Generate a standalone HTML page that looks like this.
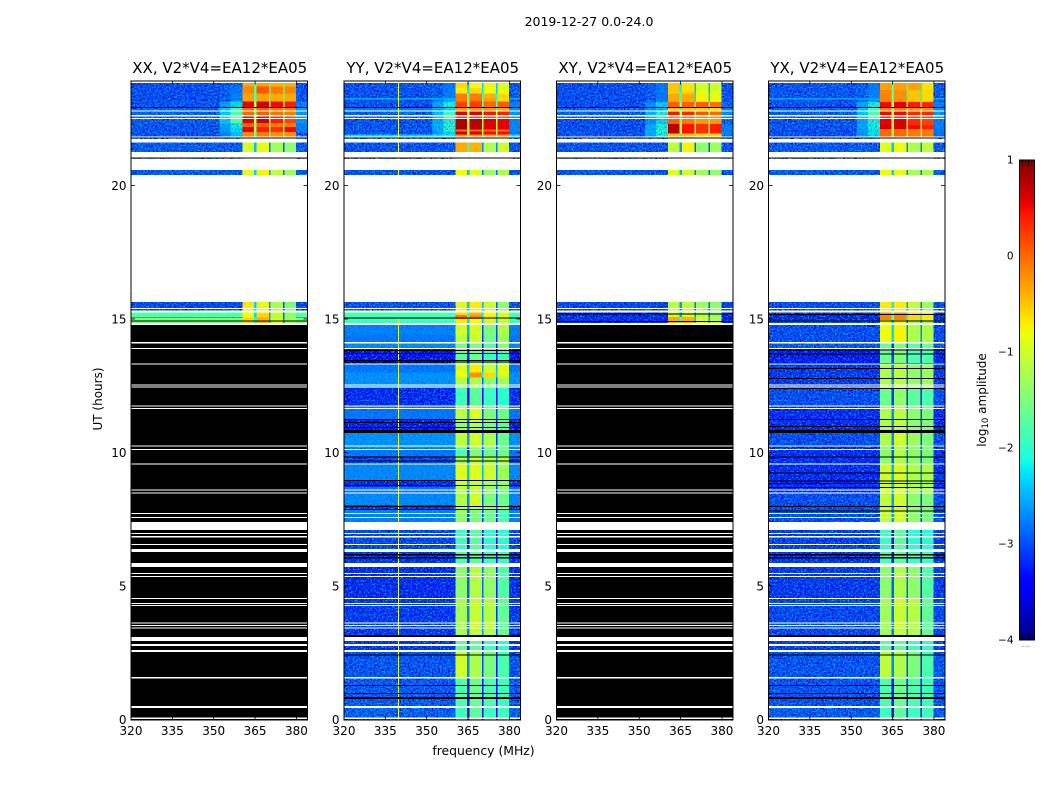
<!DOCTYPE html>
<html>
<head>
<meta charset="utf-8">
<title>2019-12-27 waterfall</title>
<style>
html,body{margin:0;padding:0;background:#fff;}
svg{display:block;}
text{font-family:"DejaVu Sans","Liberation Sans",sans-serif;fill:#000;}
</style>
</head>
<body>
<svg id="figure" xmlns="http://www.w3.org/2000/svg" width="1050" height="800" viewBox="0 0 1050 800">
  <defs>
    <filter id="speckle" x="0" y="0" width="1" height="1" color-interpolation-filters="sRGB">
      <feTurbulence type="fractalNoise" baseFrequency="0.62" numOctaves="1" seed="4" result="n"/>
      <feColorMatrix in="n" values="0 0 0 0 0  0 0 0 0 0  0 0 0 0 0.78  3.2 0 0 0 -1.3" result="dark"/>
      <feColorMatrix in="n" values="0 0 0 0 0  0 0 0 0 0.75  0 0 0 0 1  0 3.2 0 0 -1.55" result="light"/>
      <feMerge><feMergeNode in="dark"/><feMergeNode in="light"/></feMerge>
    </filter>
  </defs>
  <rect x="0" y="0" width="1050" height="800" fill="#fff"/>
  <text x="589" y="26" font-size="12.5" text-anchor="middle">2019-12-27 0.0-24.0</text>
  <text x="483.5" y="755" font-size="12.4" text-anchor="middle">frequency (MHz)</text>
  <text x="0" y="0" font-size="12" text-anchor="middle" transform="translate(102,399) rotate(-90)">UT (hours)</text>
  <text x="0" y="0" font-size="12" text-anchor="middle" transform="translate(986,400) rotate(-90)">log<tspan font-size="8.5" dy="2">10</tspan><tspan dy="-2"> amplitude</tspan></text>
  <g id="panels"></g>
  <g id="colorbar"></g>
</svg>
<script>
// ---- axis data ----
const freqEdges = [320, 352, 356, 360.4, 364.6, 365.5, 370.0, 370.6, 375.1, 375.7, 379.9, 384];
const freqTicks = [320, 335, 350, 365, 380];
const utTicks = [0, 5, 10, 15, 20];
const cbarTicks = [1, 0, -1, -2, -3, -4];
const panelTitles = ["XX, V2*V4=EA12*EA05", "YY, V2*V4=EA12*EA05", "XY, V2*V4=EA12*EA05", "YX, V2*V4=EA12*EA05"];

// Flagged (no data) time ranges, hours: shared by all polarisations
const maskedBands = [
 [23.93,23.83],[22.80,22.76],[22.63,22.58],[22.53,22.49],[21.83,21.80],[21.74,21.60],[21.25,21.05],[20.99,20.58],[20.39,15.64],
 [15.41,15.37],[15.32,15.24],[14.85,14.78],[14.13,14.09],[13.91,13.87],[13.34,13.30],[12.55,12.52],[12.47,12.43],
 [11.76,11.73],[11.67,11.63],[10.27,10.23],[10.13,10.09],[9.59,9.55],[8.62,8.57],[8.51,8.47],[7.73,7.70],[7.58,7.55],
 [7.40,7.10],[6.99,6.94],[6.87,6.82],[6.57,6.54],[6.39,6.27],[5.86,5.71],[5.49,5.45],[5.37,5.34],[4.55,4.51],
 [4.36,4.33],[4.29,4.25],[3.633,3.596],[3.539,3.502],[3.446,3.408],[3.09,2.94],[2.83,2.75],[2.60,2.53],[1.59,1.53],
 [0.51,0.43],[0.08,0.02]
];
const sharedZeroBands = [[22.93,22.90],[21.79,21.75],[21.04,21.00]];

// Rows: [utTop, utBottom, background, ramp, sub1, sub2, sub3, sub4] (log10 amplitude; -9 = zero)
const xxRows = [
 [23.83,23.70,-2.95,-2.8,-0.35,-0.3,-0.4,-0.4],
 [23.70,23.45,-2.95,-2.75,-0.15,0.1,-0.1,-0.15],
 [23.45,23.14,-2.95,-2.7,-0.3,-0.3,-0.35,-0.35],
 [23.14,22.90,-2.9,-2.2,0.55,0.65,0.5,0.4],
 [22.90,22.63,-2.8,-1.8,0.0,0.05,-0.05,-0.1],
 [22.63,22.53,-2.8,-1.6,0.5,0.55,0.35,0.2],
 [22.53,22.34,-2.85,-1.8,0.6,0.65,0.4,0.2],
 [22.34,22.19,-2.9,-2.1,0.05,0.05,-0.1,-0.1],
 [22.19,22.00,-2.9,-2.2,0.55,0.4,0.3,0.5],
 [22.00,21.80,-2.95,-2.4,-0.15,-0.1,-0.2,-0.2],
 [21.60,21.25,-2.85,-2.85,-0.95,-0.85,-1.3,-1.4],
 [20.58,20.39,-2.85,-2.85,-0.85,-0.75,-1.1,-1.3],
 [15.64,15.24,-3.0,-3.0,-0.7,-0.85,-1.2,-1.5],
 [15.24,15.07,-1.75,-1.75,-0.8,-0.6,-1.1,-1.4],
 [15.07,15.05,-3.0,-3.0,-0.7,-0.5,-1.2,-1.5],
 [15.05,14.78,-1.5,-1.5,-0.6,-0.4,-1.0,-1.3],
 [14.78,0,-9,-9,-9,-9,-9,-9]
];
const yyRows = [
 [23.83,23.64,-2.9,-2.75,-0.6,-0.8,-0.75,-0.9],
 [23.64,23.45,-2.9,-2.75,-0.7,-0.6,-0.8,-0.85],
 [23.45,23.28,-2.95,-2.7,-0.1,-0.1,-0.4,-0.6],
 [23.28,23.22,-2.45,-2.45,-0.1,-0.1,-0.3,-0.6],
 [23.22,23.15,-2.95,-2.5,-0.1,-0.05,-0.3,-0.6],
 [23.15,22.90,-2.9,-2.1,0.2,0.25,0.0,0.05],
 [22.90,22.80,-2.75,-2.2,-0.25,-0.2,-0.2,-0.3],
 [22.80,22.63,-2.8,-1.9,0.6,0.6,0.45,0.4],
 [22.63,22.49,-2.8,-1.9,0.2,0.2,0.15,0.1],
 [22.49,22.10,-2.9,-2.0,0.8,0.75,0.6,0.55],
 [22.10,22.02,-2.9,-2.0,-0.05,0.0,0.0,-0.05],
 [22.02,21.90,-2.9,-2.2,0.7,0.65,0.5,0.5],
 [21.90,21.80,-2.2,-2.0,-0.2,-0.2,-0.3,-0.3],
 [21.60,21.25,-2.9,-2.9,-0.35,-0.4,-1.2,-1.0],
 [20.58,20.39,-2.9,-2.9,-0.8,-0.9,-1.3,-1.2],
 [15.64,15.24,-2.9,-2.9,-0.9,-0.7,-1.0,-1.4],
 [15.24,15.15,-1.8,-1.8,-0.6,-0.4,-0.8,-1.0],
 [15.15,15.00,-1.8,-1.8,-0.05,-0.2,-0.7,-0.9],
 [15.00,14.78,-1.9,-1.9,-0.7,-0.8,-1.0,-1.1],
 [14.78,14.40,-2.7,-2.7,-1.0,-0.95,-1.5,-1.2],
 [14.40,14.13,-2.75,-2.75,-1.1,-1.0,-1.6,-1.3],
 [14.13,13.88,-2.65,-2.65,-1.5,-1.5,-1.7,-1.4],
 [13.88,13.31,-3.4,-3.4,-1.7,-1.6,-1.9,-1.9],
 [13.31,13.00,-2.75,-2.75,-0.9,-0.7,-1.0,-0.9],
 [13.00,12.80,-2.6,-2.6,-0.8,-0.2,-0.6,-0.9],
 [12.80,12.42,-2.6,-2.6,-1.2,-1.2,-1.4,-1.3],
 [12.42,11.74,-3.2,-3.2,-1.9,-1.7,-1.9,-2.0],
 [11.74,11.22,-2.75,-2.75,-1.1,-0.9,-1.5,-1.6],
 [11.22,10.73,-3.3,-3.3,-1.4,-1.2,-1.5,-1.7],
 [10.73,10.17,-2.6,-2.6,-1.1,-1.0,-1.2,-1.6],
 [10.17,9.87,-2.75,-2.75,-1.8,-1.5,-1.6,-1.6],
 [9.87,9.57,-3.0,-3.0,-1.3,-1.1,-1.2,-1.2],
 [9.57,8.97,-2.65,-2.65,-0.9,-0.9,-1.0,-1.3],
 [8.97,8.71,-3.2,-3.2,-1.0,-1.0,-1.2,-1.3],
 [8.71,8.48,-2.75,-2.75,-1.2,-1.1,-1.4,-1.5],
 [8.48,8.03,-2.65,-2.65,-1.2,-1.0,-1.5,-1.6],
 [8.03,7.85,-3.1,-3.1,-1.1,-1.1,-1.3,-1.4],
 [7.85,7.40,-2.7,-2.7,-1.4,-1.5,-1.6,-1.8],
 [7.40,6.39,-3.0,-3.0,-1.9,-1.7,-2.0,-2.0],
 [6.39,5.71,-3.1,-3.1,-1.8,-1.7,-1.9,-1.9],
 [5.71,4.55,-3.2,-3.2,-1.4,-1.15,-1.35,-1.75],
 [4.55,3.09,-3.1,-3.1,-1.25,-1.05,-1.15,-1.65],
 [3.09,2.53,-3.1,-3.1,-1.7,-1.7,-1.9,-2.0],
 [2.53,1.59,-2.9,-2.9,-1.0,-1.2,-1.5,-1.8],
 [1.59,0.51,-2.85,-2.85,-1.8,-1.6,-1.8,-1.9],
 [0.51,0,-2.8,-2.8,-1.9,-1.7,-1.9,-1.9]
];
const xyRows = [
 [23.83,23.54,-2.95,-2.75,-0.5,-0.65,-0.95,-1.0],
 [23.54,23.45,-2.95,-2.75,-0.55,-0.6,-0.9,-0.95],
 [23.45,23.13,-2.95,-2.75,-0.35,-0.35,-0.75,-0.85],
 [23.13,22.90,-2.95,-2.3,0.05,0.05,0.05,-0.05],
 [22.90,22.80,-2.8,-2.4,-0.5,-0.5,-0.55,-0.6],
 [22.80,22.63,-2.85,-2.0,0.45,0.35,0.1,0.0],
 [22.63,22.49,-2.85,-2.0,-0.1,-0.1,-0.2,-0.2],
 [22.49,22.30,-2.95,-2.3,0.05,-0.1,-0.25,-0.25],
 [22.30,21.95,-2.95,-2.0,0.75,0.45,0.3,0.4],
 [21.95,21.80,-2.9,-2.1,-0.5,-0.5,-0.6,-0.6],
 [21.60,21.25,-2.9,-2.9,-1.1,-0.75,-1.4,-1.3],
 [20.58,20.39,-2.9,-2.9,-0.85,-1.0,-1.3,-1.4],
 [15.64,15.24,-3.0,-3.0,-1.1,-1.1,-1.3,-1.4],
 [15.24,15.08,-3.2,-3.2,-1.0,-1.0,-1.2,-1.4],
 [15.08,14.78,-3.2,-3.2,-0.35,-0.4,-0.9,-1.1],
 [14.78,0,-9,-9,-9,-9,-9,-9]
];
const yxRows = [
 [23.83,23.57,-2.9,-2.75,-0.3,-0.3,-0.3,-0.65],
 [23.57,23.28,-2.9,-2.7,-0.15,-0.2,-0.5,-0.6],
 [23.28,23.22,-2.5,-2.5,-0.15,-0.2,-0.5,-0.6],
 [23.22,23.12,-2.9,-2.6,-0.15,-0.2,-0.5,-0.6],
 [23.12,22.90,-2.9,-2.1,0.5,0.55,0.4,0.35],
 [22.90,22.80,-2.8,-1.9,-0.1,-0.1,-0.2,-0.2],
 [22.80,22.63,-2.8,-1.8,0.5,0.5,0.35,0.35],
 [22.63,22.49,-2.8,-1.8,0.3,0.3,0.2,0.2],
 [22.49,22.27,-2.9,-2.1,0.55,0.6,0.35,0.2],
 [22.27,22.12,-2.9,-2.1,0.65,0.65,0.5,0.4],
 [22.12,21.80,-2.95,-2.2,0.0,0.0,-0.1,-0.1],
 [21.60,21.25,-2.85,-2.85,-0.9,-0.8,-1.2,-1.1],
 [20.58,20.39,-2.85,-2.85,-0.8,-0.85,-1.25,-1.2],
 [15.64,15.24,-2.95,-2.95,-0.7,-0.7,-1.1,-1.3],
 [15.24,14.97,-3.2,-3.2,-0.15,-0.15,-0.6,-0.7],
 [14.97,14.13,-2.95,-2.95,-0.8,-0.75,-1.2,-1.2],
 [14.13,13.88,-2.85,-2.85,-1.6,-1.5,-1.7,-1.6],
 [13.88,13.31,-3.3,-3.3,-1.6,-1.5,-1.8,-1.8],
 [13.31,12.42,-3.1,-3.1,-1.2,-1.1,-1.4,-1.3],
 [12.42,11.74,-2.95,-2.95,-1.6,-1.4,-1.7,-1.8],
 [11.74,10.73,-3.2,-3.2,-1.2,-1.1,-1.4,-1.5],
 [10.73,10.28,-2.95,-2.95,-1.2,-1.0,-1.3,-1.5],
 [10.28,9.57,-3.2,-3.2,-1.4,-1.2,-1.4,-1.5],
 [9.57,8.48,-3.2,-3.2,-1.0,-0.95,-1.2,-1.2],
 [8.48,7.40,-2.95,-2.95,-1.1,-1.0,-1.4,-1.5],
 [7.40,6.39,-3.05,-3.05,-1.9,-1.7,-2.0,-2.0],
 [6.39,5.71,-3.1,-3.1,-1.8,-1.7,-1.9,-1.9],
 [5.71,4.55,-3.1,-3.1,-1.4,-1.2,-1.4,-1.75],
 [4.55,3.09,-3.0,-3.0,-1.3,-1.05,-1.15,-1.65],
 [3.09,2.53,-3.05,-3.05,-1.7,-1.7,-1.9,-2.0],
 [2.53,1.59,-2.9,-2.9,-1.1,-1.2,-1.5,-1.8],
 [1.59,0.51,-2.9,-2.9,-1.8,-1.6,-1.8,-1.9],
 [0.51,0,-2.85,-2.85,-1.9,-1.7,-1.9,-1.9]
];
const panelRows = [xxRows, yyRows, xyRows, yxRows];

// Per-polarisation zero-amplitude lines [utTop, utBottom]
const xxZeroBands = [[14.95,14.92]];
const yyZeroBands = [[15.06,15.03],[13.84,13.82],[13.72,13.70],[13.46,13.44],[13.40,13.37],[11.25,11.22],[11.14,11.11],[10.96,10.93],[10.84,10.73],[9.84,9.81],[9.69,9.66],[8.96,8.93],[8.78,8.75],[8.00,7.97],[7.88,7.85],[6.20,6.14],[6.08,6.02],[3.16,3.09],[2.44,2.41],[1.29,1.26],[1.00,0.97],[0.84,0.77]];
const xyZeroBands = [[15.21,15.18],[14.92,14.89]];
const yxZeroBands = [[15.19,15.16],[14.95,14.92],[13.85,13.83],[13.70,13.68],[13.35,13.33],[13.16,13.13],[12.78,12.75],[12.42,12.39],[11.25,11.22],[11.00,10.97],[10.84,10.72],[9.85,9.82],[9.25,9.22],[8.95,8.92],[8.85,8.82],[8.70,8.67],[8.00,7.97],[7.83,7.80],[6.20,6.14],[6.08,6.02],[3.16,3.09],[2.44,2.41],[1.29,1.26],[1.00,0.97],[0.84,0.77]];
const panelZeroBands = [xxZeroBands, yyZeroBands, xyZeroBands, yxZeroBands];

// Narrow RFI channels: [panel index, MHz, utTop, utBottom, level]
const rfiLines = [[1, 339.8, 15.0, 0, -0.9], [1, 339.8, 23.93, 15.64, -0.8]];

// ---- layout ----
const panelLeft = [131, 344, 556.5, 768.5];
const panelWidth = 176.5;
const plotTop = 80.5, plotBottom = 719.5;
const SVGNS = 'http://www.w3.org/2000/svg';
const freqMin = 320, freqMax = 384, utMin = 0, utMax = 23.93;
const cbarMin = -4, cbarMax = 1, cbarTop = 160, cbarBottom = 640, cbarLeft = 1019.5, cbarRight = 1034.5;
const cbarSteps = 160;
const offBandColumns = [0, 1, 2, 10];

function xScale(panel, f) { return panelLeft[panel] + (f - freqMin) / (freqMax - freqMin) * panelWidth; }
function yScale(t) { return plotBottom - (t - utMin) / (utMax - utMin) * (plotBottom - plotTop); }
function cbarScale(v) { return cbarBottom - (v - cbarMin) / (cbarMax - cbarMin) * (cbarBottom - cbarTop); }

function interp(points, x) {
  for (let i = 1; i < points.length; i++) {
    if (x <= points[i][0]) {
      const a = points[i - 1], b = points[i];
      return a[1] + (x - a[0]) / (b[0] - a[0]) * (b[1] - a[1]);
    }
  }
  return points[points.length - 1][1];
}
const jetR = [[0,0],[0.35,0],[0.66,1],[0.89,1],[1,0.5]];
const jetG = [[0,0],[0.125,0],[0.375,1],[0.64,1],[0.91,0],[1,0]];
const jetB = [[0,0.5],[0.11,1],[0.34,1],[0.65,0],[1,0]];
function levelColor(v) {
  if (v < cbarMin) return '#000';
  const n = Math.min(1, (v - cbarMin) / (cbarMax - cbarMin));
  const c = [jetR, jetG, jetB].map(p => Math.round(255 * interp(p, n)));
  return 'rgb(' + c.join(',') + ')';
}
function mk(parent, tag, attrs) {
  const el = document.createElementNS(SVGNS, tag);
  for (const k in attrs) el.setAttribute(k, attrs[k]);
  parent.appendChild(el);
  return el;
}
function columnLevels(r) {
  const bg = r[2], ramp = r[3], s1 = r[4], s2 = r[5], s3 = r[6], s4 = r[7];
  if (bg < cbarMin) return [bg, bg, bg, bg, bg, bg, bg, bg, bg, bg, bg];
  const drop = 1.5;
  const tail = bg * 0.75 + ramp * 0.25;
  return [bg, (bg + ramp) / 2, ramp, s1, Math.min(s1, s2) - drop, s2, Math.min(s2, s3) - drop, s3, Math.min(s3, s4) - drop, s4, tail];
}
function band(group, p, b, fill) {
  const y0 = yScale(b[0]), y1 = yScale(b[1]);
  return mk(group, 'rect', {x: panelLeft[p], y: y0, width: panelWidth, height: Math.max(1, y1 - y0), fill: fill, 'shape-rendering': 'crispEdges'});
}
function drawCell(group, p, r, c, level, opacity) {
  const x0 = xScale(p, freqEdges[c]), x1 = xScale(p, freqEdges[c + 1]);
  const y0 = yScale(r[0]), y1 = yScale(r[1]);
  const cell = mk(group, 'rect', {x: x0, y: y0, width: x1 - x0, height: y1 - y0, fill: levelColor(level), 'fill-opacity': opacity, 'shape-rendering': 'crispEdges'});
  
  
}

const panelsRoot = document.getElementById('panels');
const polNames = ['xx', 'yy', 'xy', 'yx'];
panelTitles.forEach(function (title, p) {
  const g = mk(panelsRoot, 'g', {});
  
  

  const heat = mk(g, 'g', {});
  
  
  panelRows[p].forEach(function (r) {
    const levels = columnLevels(r);
    for (let c = 0; c < levels.length; c++) {
      if (levels[c] >= cbarMin) drawCell(heat, p, r, c, levels[c], 1);
    }
  });

  const speck1 = mk(g, 'rect', {x: xScale(p, 320), y: plotTop, width: xScale(p, 360.4) - xScale(p, 320), height: plotBottom - plotTop, filter: 'url(#speckle)'});
  
  
  const speck2 = mk(g, 'rect', {x: xScale(p, 379.9), y: plotTop, width: xScale(p, 384) - xScale(p, 379.9), height: plotBottom - plotTop, filter: 'url(#speckle)'});
  
  

  // brighter off-band cells and zero-amplitude rows sit above the noise texture
  const upper = mk(g, 'g', {});
  
  
  panelRows[p].forEach(function (r) {
    const levels = columnLevels(r);
    for (let c = 0; c < levels.length; c++) {
      if (levels[c] < cbarMin) {
        drawCell(upper, p, r, c, levels[c], 1);
      } else if (offBandColumns.indexOf(c) >= 0 && levels[c] > -2.78) {
        drawCell(upper, p, r, c, levels[c], levels[c] > -2.0 ? 1 : 0.65);
      }
    }
  });

  rfiLines.filter(l => l[0] === p).forEach(function (l) {
    const y0 = yScale(l[2]), y1 = yScale(l[3]);
    const line = mk(g, 'rect', {x: xScale(p, l[1]) - 0.5, y: y0, width: 1, height: y1 - y0, fill: levelColor(l[4]), 'shape-rendering': 'crispEdges'});
    
    
  });

  panelZeroBands[p].concat(sharedZeroBands).forEach(function (b) {
    const el = band(g, p, b, '#000');
    
    
  });
  maskedBands.forEach(function (b) {
    const el = band(g, p, b, '#fff');
    
    
  });

  const frame = mk(g, 'rect', {x: panelLeft[p], y: 81, width: panelWidth, height: 639, fill: 'none', stroke: '#000', 'stroke-width': 1});
  
  

  const titleEl = mk(g, 'text', {x: panelLeft[p] + panelWidth / 2 + 0.5, y: 73, 'font-size': 15, 'text-anchor': 'middle'});
  titleEl.textContent = title;
  
  

  freqTicks.forEach(function (f) {
    const x = xScale(p, f);
    const t1 = mk(g, 'line', {x1: x, x2: x, y1: plotBottom, y2: plotBottom - 4, stroke: '#000', 'stroke-width': 0.8});
    
    
    const t2 = mk(g, 'line', {x1: x, x2: x, y1: plotTop, y2: plotTop + 4, stroke: '#000', 'stroke-width': 0.8});
    
    
    const lab = mk(g, 'text', {x: x, y: 735, 'font-size': 12, 'text-anchor': 'middle'});
    lab.textContent = String(f);
    
    
  });
  utTicks.forEach(function (t) {
    const y = yScale(t);
    const t1 = mk(g, 'line', {x1: panelLeft[p], x2: panelLeft[p] + 4, y1: y, y2: y, stroke: '#000', 'stroke-width': 0.8});
    
    
    const t2 = mk(g, 'line', {x1: panelLeft[p] + panelWidth, x2: panelLeft[p] + panelWidth - 4, y1: y, y2: y, stroke: '#000', 'stroke-width': 0.8});
    
    
    const lab = mk(g, 'text', {x: panelLeft[p] - 4.5, y: y + 4.5, 'font-size': 12, 'text-anchor': 'end'});
    lab.textContent = String(t);
    
    
  });
});

// ---- colorbar ----
const cbar = document.getElementById('colorbar');
for (let i = 0; i < cbarSteps; i++) {
  const v0 = cbarMin + (cbarMax - cbarMin) * i / cbarSteps;
  const v1 = cbarMin + (cbarMax - cbarMin) * (i + 1) / cbarSteps;
  const seg = mk(cbar, 'rect', {x: cbarLeft, y: cbarScale(v1), width: cbarRight - cbarLeft, height: cbarScale(v0) - cbarScale(v1) + 0.5, fill: levelColor((v0 + v1) / 2), 'shape-rendering': 'crispEdges'});
  
  
}
const minorOffsets = [3, 6, 9, 12];
minorOffsets.forEach(function (dx) {
  const a = mk(cbar, 'line', {x1: cbarLeft + dx, x2: cbarLeft + dx, y1: cbarTop, y2: cbarTop + 6, stroke: '#000', 'stroke-width': 0.8});
  
  
  const b = mk(cbar, 'line', {x1: cbarLeft + dx, x2: cbarLeft + dx, y1: cbarBottom, y2: cbarBottom - 6, stroke: '#000', 'stroke-width': 0.8});
  
  
});
const cbFrame = mk(cbar, 'rect', {x: cbarLeft, y: cbarTop, width: cbarRight - cbarLeft, height: cbarBottom - cbarTop, fill: 'none', stroke: '#000', 'stroke-width': 1});


cbarTicks.forEach(function (v) {
  const lab = mk(cbar, 'text', {x: 1013.5, y: cbarScale(v) + 3.5, 'font-size': 10.5, 'text-anchor': 'end'});
  lab.textContent = v < 0 ? '\u2212' + Math.abs(v) : String(v);
  
  
});
const dots = mk(cbar, 'text', {x: 1026, y: 646.5, 'font-size': 5, 'text-anchor': 'middle', fill: '#555'});
dots.textContent = '......';


</script>
</body>
</html>
